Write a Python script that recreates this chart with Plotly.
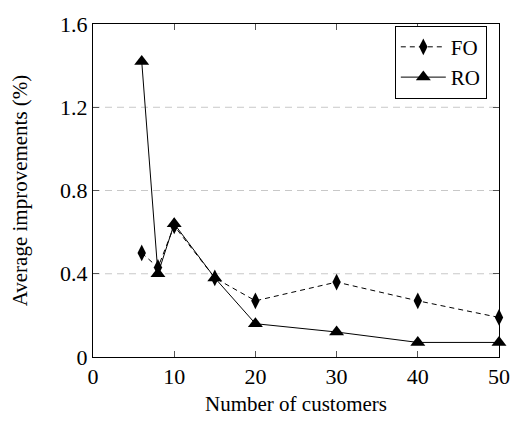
import plotly.graph_objects as go

customers = [6, 8, 10, 15, 20, 30, 40, 50]
fo_values = [0.50, 0.43, 0.63, 0.38, 0.27, 0.36, 0.27, 0.19]
ro_values = [1.42, 0.40, 0.64, 0.38, 0.16, 0.12, 0.07, 0.07]
x_ticks = [0, 10, 20, 30, 40, 50]
y_ticks = [0, 0.4, 0.8, 1.2, 1.6]
y_tick_text = ["0", "0.4", "0.8", "1.2", "1.6"]

FONT = "Liberation Serif, Times New Roman, DejaVu Serif, serif"

fig = go.Figure()
fig.add_trace(go.Scatter(
    x=customers, y=fo_values, name="FO", mode="lines+markers",
    line=dict(color="black", width=1, dash="5px,4px"),
    marker=dict(symbol="diamond-tall", size=12, color="black"),
    cliponaxis=False,
))
fig.add_trace(go.Scatter(
    x=customers, y=ro_values, name="RO", mode="lines+markers",
    line=dict(color="black", width=1),
    marker=dict(symbol="triangle-up", size=13, color="black"),
    cliponaxis=False,
))

for yv in [0.4, 0.8, 1.2]:
    fig.add_shape(type="line", xref="paper", x0=0, x1=1, yref="y", y0=yv, y1=yv,
                  line=dict(color="#c8c8c8", width=1, dash="7px,5px"), layer="below")

axis_common = dict(
    showgrid=False, zeroline=False, showline=True, linecolor="black", linewidth=1,
    mirror="ticks", ticks="inside", ticklen=6, tickcolor="#555555",
    tickfont=dict(family=FONT, size=22, color="black"),
)
fig.update_xaxes(range=[0, 50], tickvals=x_ticks,
                 title=dict(text="Number of customers", font=dict(family=FONT, size=21, color="black"), standoff=7),
                 **axis_common)
fig.update_yaxes(range=[0, 1.6], tickvals=y_ticks, ticktext=y_tick_text,
                 title=dict(text="Average improvements (%)", font=dict(family=FONT, size=21, color="black"), standoff=26),
                 **axis_common)

fig.update_layout(
    width=522, height=423,
    margin=dict(l=93, r=14, t=15, b=65),
    plot_bgcolor="white", paper_bgcolor="white",
    font=dict(family=FONT, color="black"),
    legend=dict(x=0.97, y=0.995, xanchor="right", yanchor="top",
                bordercolor="black", borderwidth=1, bgcolor="white",
                font=dict(family=FONT, size=21, color="black"),
                tracegroupgap=0, itemwidth=45),
    showlegend=True,
)

fig.write_html("out.html")
